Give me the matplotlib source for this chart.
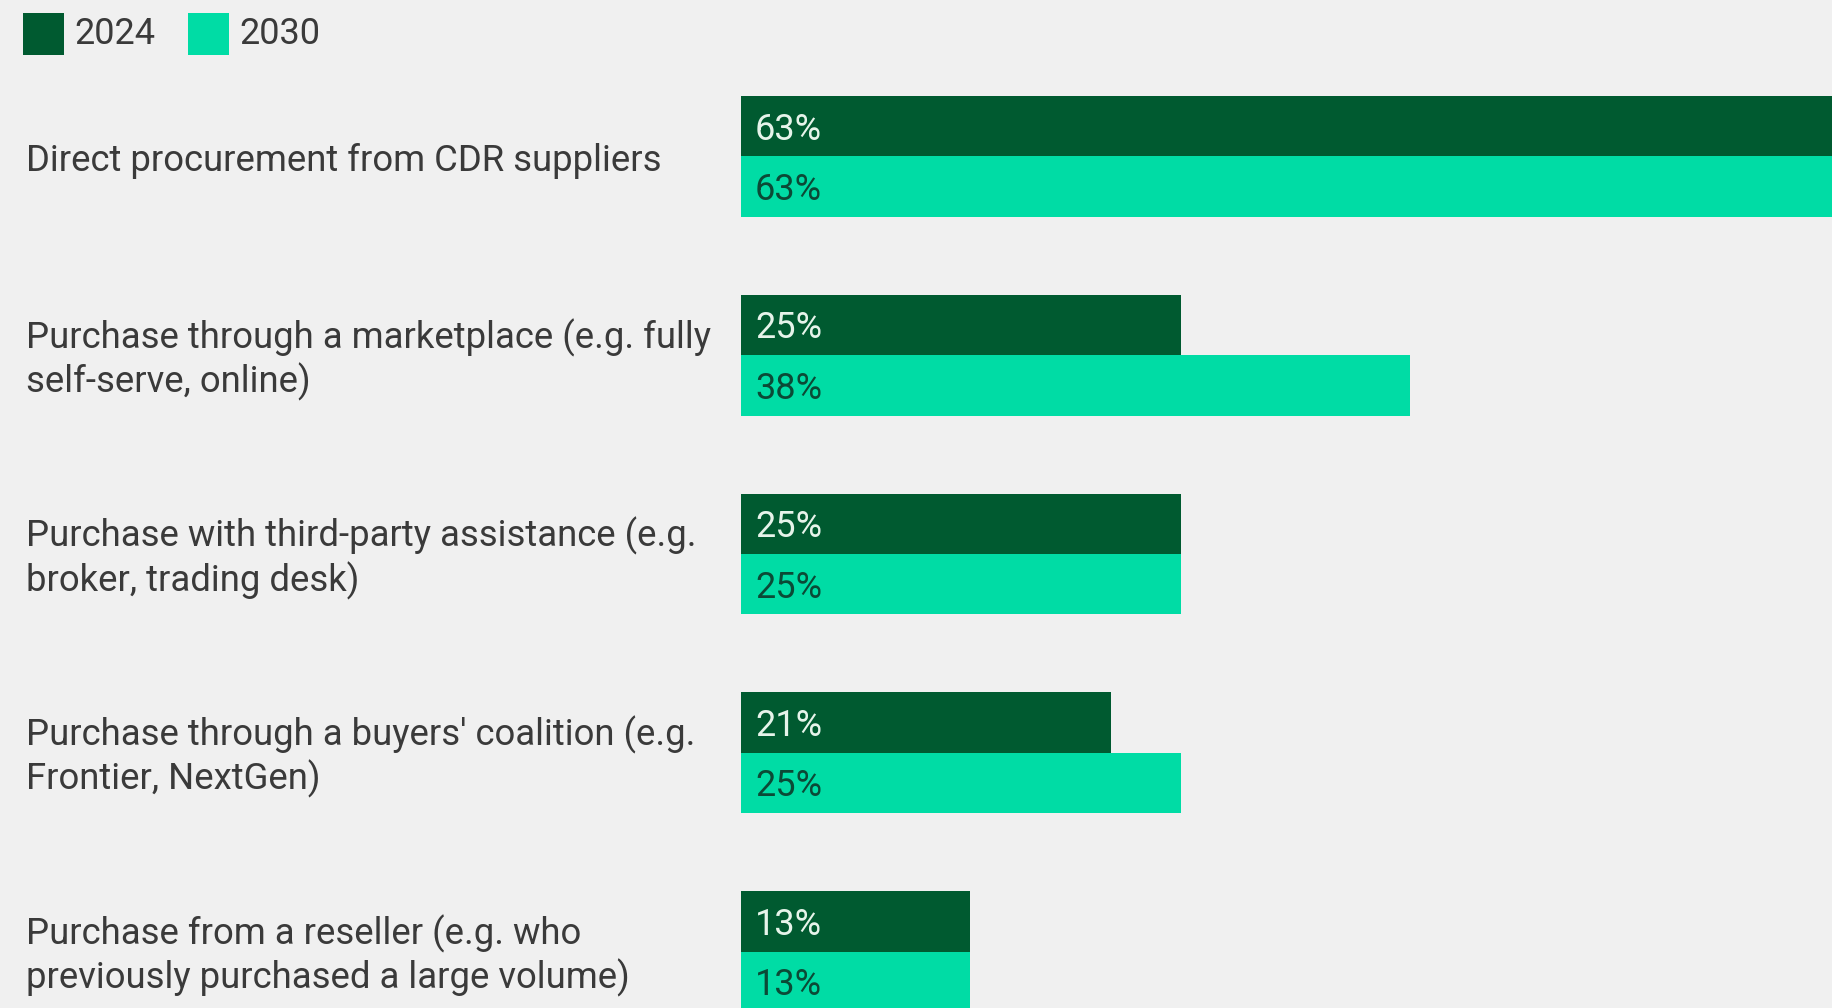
import matplotlib
matplotlib.use('Agg')
import numpy as np
import matplotlib.pyplot as plt
from matplotlib.patches import Rectangle
from matplotlib.transforms import blended_transform_factory

plt.rcParams['font.family'] = ['Roboto', 'DejaVu Sans']

# data
categories = [
    'Direct procurement from CDR suppliers',
    'Purchase through a marketplace (e.g. fully\nself-serve, online)',
    'Purchase with third-party assistance (e.g.\nbroker, trading desk)',
    "Purchase through a buyers' coalition (e.g.\nFrontier, NextGen)",
    'Purchase from a reseller (e.g. who\npreviously purchased a large volume)',
]
share_2024 = [63, 25, 25, 21, 13]
share_2030 = [63, 38, 25, 25, 13]
years = ['2024', '2030']

BG = '#f0f0f0'
DARK = '#005a30'
LIGHT = '#00dca5'
TEXT = '#3a3a3a'

W, H = 1832, 1008
fig = plt.figure(figsize=(W / 100, H / 100), dpi=100, facecolor=BG)

# axes spans from bar start to right edge, full height
ax = fig.add_axes([741 / W, 0, 1 - 741 / W, 1])
ax.set_facecolor(BG)

y = np.arange(len(categories))
h = 0.304
ax.barh(y - h / 2, share_2024, height=h, color=DARK, linewidth=0)
ax.barh(y + h / 2, share_2030, height=h, color=LIGHT, linewidth=0)

ax.set_xlim(0, 62.0)
ax.set_ylim(4.284, -0.787)
ax.axis('off')

for i in range(len(categories)):
    ax.annotate(f'{share_2024[i]}%', xy=(0, y[i] - h / 2), xytext=(10, -2.5),
                textcoords='offset points', va='center', ha='left',
                fontsize=26, color='#e6f4ea')
    ax.annotate(f'{share_2030[i]}%', xy=(0, y[i] + h / 2), xytext=(10, -2.5),
                textcoords='offset points', va='center', ha='left',
                fontsize=26, color='#0b4a36')

# category labels on the left
trans = blended_transform_factory(fig.transFigure, ax.transData)
for i, cat in enumerate(categories):
    ax.text(26 / W, y[i] + 0.022, cat, transform=trans, ha='left', va='center',
            fontsize=26.3, color=TEXT, linespacing=1.2)

# legend drawn by hand at the top left
for (x0, col, lab) in [(23, DARK, years[0]), (188, LIGHT, years[1])]:
    fig.patches.append(Rectangle((x0 / W, 1 - 55 / H), 41 / W, 42 / H,
                                 transform=fig.transFigure, color=col,
                                 linewidth=0))
    fig.text((x0 + 51) / W, 1 - 34 / H, lab, ha='left', va='center',
             fontsize=26, color=TEXT)

fig.savefig('out.png', dpi=100, facecolor=BG)
